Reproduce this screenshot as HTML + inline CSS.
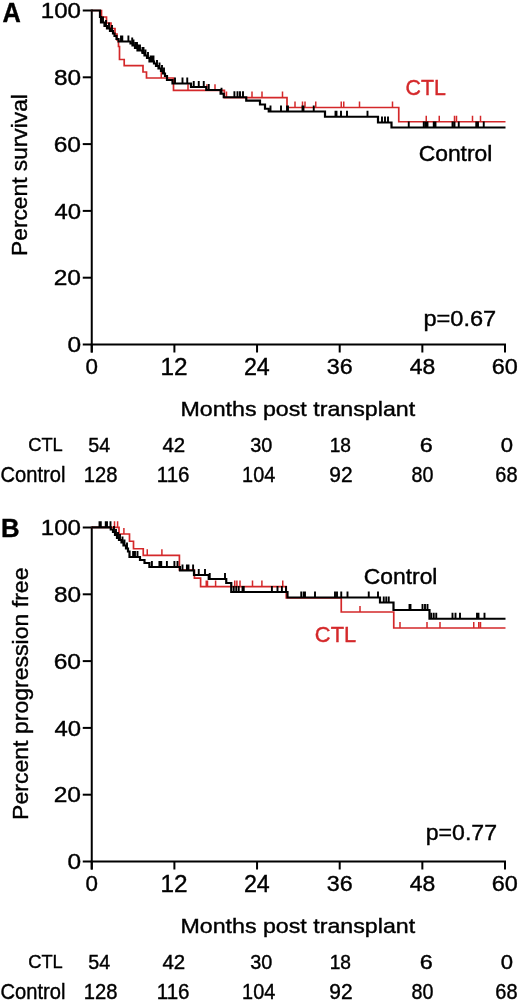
<!DOCTYPE html>
<html><head><meta charset="utf-8"><style>
html,body{margin:0;padding:0;background:#fff;width:520px;height:1002px;overflow:hidden}
svg{display:block;filter:blur(0.4px)}
text{font-family:"Liberation Sans",sans-serif}
</style></head><body>
<svg width="520" height="1002" viewBox="0 0 520 1002">
<rect width="520" height="1002" fill="#fff"/>
<line x1="91.75" y1="9.5" x2="91.75" y2="352.5" stroke="#000" stroke-width="2"/>
<line x1="90.75" y1="344.5" x2="506.0" y2="344.5" stroke="#000" stroke-width="2"/>
<line x1="82.75" y1="344.5" x2="91.75" y2="344.5" stroke="#000" stroke-width="2"/>
<line x1="91.75" y1="344.5" x2="91.75" y2="352.5" stroke="#000" stroke-width="2"/>
<line x1="82.75" y1="277.7" x2="91.75" y2="277.7" stroke="#000" stroke-width="2"/>
<line x1="174.4" y1="344.5" x2="174.4" y2="352.5" stroke="#000" stroke-width="2"/>
<line x1="82.75" y1="210.9" x2="91.75" y2="210.9" stroke="#000" stroke-width="2"/>
<line x1="257.05" y1="344.5" x2="257.05" y2="352.5" stroke="#000" stroke-width="2"/>
<line x1="82.75" y1="144.1" x2="91.75" y2="144.1" stroke="#000" stroke-width="2"/>
<line x1="339.7" y1="344.5" x2="339.7" y2="352.5" stroke="#000" stroke-width="2"/>
<line x1="82.75" y1="77.30000000000001" x2="91.75" y2="77.30000000000001" stroke="#000" stroke-width="2"/>
<line x1="422.35" y1="344.5" x2="422.35" y2="352.5" stroke="#000" stroke-width="2"/>
<line x1="82.75" y1="10.5" x2="91.75" y2="10.5" stroke="#000" stroke-width="2"/>
<line x1="505.0" y1="344.5" x2="505.0" y2="352.5" stroke="#000" stroke-width="2"/>
<text transform="matrix(1.0968,0,0,1,67.39,352.13)" font-size="22.32" font-weight="normal" fill="#000" stroke="#000" stroke-width="0.4">0</text>
<text transform="matrix(1.0995,0,0,1,53.72,285.33)" font-size="22.32" font-weight="normal" fill="#000" stroke="#000" stroke-width="0.4">20</text>
<text transform="matrix(1.0709,0,0,1,54.40,218.53)" font-size="22.32" font-weight="normal" fill="#000" stroke="#000" stroke-width="0.4">40</text>
<text transform="matrix(1.1000,0,0,1,53.70,151.73)" font-size="22.32" font-weight="normal" fill="#000" stroke="#000" stroke-width="0.4">60</text>
<text transform="matrix(1.0922,0,0,1,53.89,84.93)" font-size="22.32" font-weight="normal" fill="#000" stroke="#000" stroke-width="0.4">80</text>
<text transform="matrix(1.0790,0,0,1,40.82,18.13)" font-size="22.32" font-weight="normal" fill="#000" stroke="#000" stroke-width="0.4">100</text>
<text transform="matrix(0.9843,0,0,1,85.43,374.33)" font-size="22.74" font-weight="normal" fill="#000" stroke="#000" stroke-width="0.4">0</text>
<text transform="matrix(1.0558,0,0,1,160.55,374.55)" font-size="23.06" font-weight="normal" fill="#000" stroke="#000" stroke-width="0.4">12</text>
<text transform="matrix(1.0079,0,0,1,243.88,374.55)" font-size="23.06" font-weight="normal" fill="#000" stroke="#000" stroke-width="0.4">24</text>
<text transform="matrix(1.0244,0,0,1,326.81,374.33)" font-size="22.74" font-weight="normal" fill="#000" stroke="#000" stroke-width="0.4">36</text>
<text transform="matrix(1.0091,0,0,1,409.82,374.33)" font-size="22.74" font-weight="normal" fill="#000" stroke="#000" stroke-width="0.4">48</text>
<text transform="matrix(1.0322,0,0,1,491.81,374.33)" font-size="22.74" font-weight="normal" fill="#000" stroke="#000" stroke-width="0.4">60</text>
<line x1="91.75" y1="526.5" x2="91.75" y2="869.5" stroke="#000" stroke-width="2"/>
<line x1="90.75" y1="861.5" x2="506.0" y2="861.5" stroke="#000" stroke-width="2"/>
<line x1="82.75" y1="861.5" x2="91.75" y2="861.5" stroke="#000" stroke-width="2"/>
<line x1="91.75" y1="861.5" x2="91.75" y2="869.5" stroke="#000" stroke-width="2"/>
<line x1="82.75" y1="794.7" x2="91.75" y2="794.7" stroke="#000" stroke-width="2"/>
<line x1="174.4" y1="861.5" x2="174.4" y2="869.5" stroke="#000" stroke-width="2"/>
<line x1="82.75" y1="727.9" x2="91.75" y2="727.9" stroke="#000" stroke-width="2"/>
<line x1="257.05" y1="861.5" x2="257.05" y2="869.5" stroke="#000" stroke-width="2"/>
<line x1="82.75" y1="661.1" x2="91.75" y2="661.1" stroke="#000" stroke-width="2"/>
<line x1="339.7" y1="861.5" x2="339.7" y2="869.5" stroke="#000" stroke-width="2"/>
<line x1="82.75" y1="594.3" x2="91.75" y2="594.3" stroke="#000" stroke-width="2"/>
<line x1="422.35" y1="861.5" x2="422.35" y2="869.5" stroke="#000" stroke-width="2"/>
<line x1="82.75" y1="527.5" x2="91.75" y2="527.5" stroke="#000" stroke-width="2"/>
<line x1="505.0" y1="861.5" x2="505.0" y2="869.5" stroke="#000" stroke-width="2"/>
<text transform="matrix(1.0968,0,0,1,67.39,869.13)" font-size="22.32" font-weight="normal" fill="#000" stroke="#000" stroke-width="0.4">0</text>
<text transform="matrix(1.0995,0,0,1,53.72,802.33)" font-size="22.32" font-weight="normal" fill="#000" stroke="#000" stroke-width="0.4">20</text>
<text transform="matrix(1.0709,0,0,1,54.40,735.53)" font-size="22.32" font-weight="normal" fill="#000" stroke="#000" stroke-width="0.4">40</text>
<text transform="matrix(1.1000,0,0,1,53.70,668.73)" font-size="22.32" font-weight="normal" fill="#000" stroke="#000" stroke-width="0.4">60</text>
<text transform="matrix(1.0922,0,0,1,53.89,601.93)" font-size="22.32" font-weight="normal" fill="#000" stroke="#000" stroke-width="0.4">80</text>
<text transform="matrix(1.0790,0,0,1,40.82,535.13)" font-size="22.32" font-weight="normal" fill="#000" stroke="#000" stroke-width="0.4">100</text>
<text transform="matrix(0.9843,0,0,1,85.43,891.33)" font-size="22.74" font-weight="normal" fill="#000" stroke="#000" stroke-width="0.4">0</text>
<text transform="matrix(1.0558,0,0,1,160.55,891.55)" font-size="23.06" font-weight="normal" fill="#000" stroke="#000" stroke-width="0.4">12</text>
<text transform="matrix(1.0079,0,0,1,243.88,891.55)" font-size="23.06" font-weight="normal" fill="#000" stroke="#000" stroke-width="0.4">24</text>
<text transform="matrix(1.0244,0,0,1,326.81,891.33)" font-size="22.74" font-weight="normal" fill="#000" stroke="#000" stroke-width="0.4">36</text>
<text transform="matrix(1.0091,0,0,1,409.82,891.33)" font-size="22.74" font-weight="normal" fill="#000" stroke="#000" stroke-width="0.4">48</text>
<text transform="matrix(1.0322,0,0,1,491.81,891.33)" font-size="22.74" font-weight="normal" fill="#000" stroke="#000" stroke-width="0.4">60</text>
<text transform="matrix(0.9423,0,0,1,2.42,21.95)" font-size="26.89" font-weight="bold" fill="#000" stroke="#000" stroke-width="0.4">A</text>
<text transform="matrix(0.9785,0,0,1,0.93,537.25)" font-size="26.31" font-weight="bold" fill="#000" stroke="#000" stroke-width="0.4">B</text>
<text transform="matrix(1.0995,0,0,1,180.45,416.15)" font-size="21.11" font-weight="normal" fill="#000" stroke="#000" stroke-width="0.4">Months post transplant</text>
<text transform="matrix(0.9612,0,0,1,28.17,451.15)" font-size="19.05" font-weight="normal" fill="#000" stroke="#000" stroke-width="0.4">CTL</text>
<text transform="matrix(0.9360,0,0,1,0.58,481.94)" font-size="21.51" font-weight="normal" fill="#000" stroke="#000" stroke-width="0.4">Control</text>
<text transform="matrix(0.9820,0,0,1,88.31,451.65)" font-size="20.06" font-weight="normal" fill="#000" stroke="#000" stroke-width="0.4">54</text>
<text transform="matrix(1.0224,0,0,1,162.38,451.85)" font-size="20.05" font-weight="normal" fill="#000" stroke="#000" stroke-width="0.4">42</text>
<text transform="matrix(1.0040,0,0,1,250.34,451.66)" font-size="19.77" font-weight="normal" fill="#000" stroke="#000" stroke-width="0.4">30</text>
<text transform="matrix(0.9705,0,0,1,329.64,451.66)" font-size="19.77" font-weight="normal" fill="#000" stroke="#000" stroke-width="0.4">18</text>
<text transform="matrix(1.1837,0,0,1,419.66,451.66)" font-size="19.77" font-weight="normal" fill="#000" stroke="#000" stroke-width="0.4">6</text>
<text transform="matrix(1.1161,0,0,1,500.74,451.66)" font-size="19.77" font-weight="normal" fill="#000" stroke="#000" stroke-width="0.4">0</text>
<text transform="matrix(0.9352,0,0,1,83.81,481.94)" font-size="21.61" font-weight="normal" fill="#000" stroke="#000" stroke-width="0.4">128</text>
<text transform="matrix(0.9504,0,0,1,156.79,481.94)" font-size="21.61" font-weight="normal" fill="#000" stroke="#000" stroke-width="0.4">116</text>
<text transform="matrix(0.9193,0,0,1,242.09,481.94)" font-size="21.61" font-weight="normal" fill="#000" stroke="#000" stroke-width="0.4">104</text>
<text transform="matrix(0.9710,0,0,1,329.37,481.94)" font-size="21.61" font-weight="normal" fill="#000" stroke="#000" stroke-width="0.4">92</text>
<text transform="matrix(0.9122,0,0,1,411.49,481.94)" font-size="21.61" font-weight="normal" fill="#000" stroke="#000" stroke-width="0.4">80</text>
<text transform="matrix(0.9227,0,0,1,495.34,481.94)" font-size="21.61" font-weight="normal" fill="#000" stroke="#000" stroke-width="0.4">68</text>
<text transform="matrix(1.0995,0,0,1,180.45,933.15)" font-size="21.11" font-weight="normal" fill="#000" stroke="#000" stroke-width="0.4">Months post transplant</text>
<text transform="matrix(0.9612,0,0,1,28.17,968.15)" font-size="19.05" font-weight="normal" fill="#000" stroke="#000" stroke-width="0.4">CTL</text>
<text transform="matrix(0.9360,0,0,1,0.58,998.94)" font-size="21.51" font-weight="normal" fill="#000" stroke="#000" stroke-width="0.4">Control</text>
<text transform="matrix(0.9820,0,0,1,88.31,968.65)" font-size="20.06" font-weight="normal" fill="#000" stroke="#000" stroke-width="0.4">54</text>
<text transform="matrix(1.0224,0,0,1,162.38,968.85)" font-size="20.05" font-weight="normal" fill="#000" stroke="#000" stroke-width="0.4">42</text>
<text transform="matrix(1.0040,0,0,1,250.34,968.66)" font-size="19.77" font-weight="normal" fill="#000" stroke="#000" stroke-width="0.4">30</text>
<text transform="matrix(0.9705,0,0,1,329.64,968.66)" font-size="19.77" font-weight="normal" fill="#000" stroke="#000" stroke-width="0.4">18</text>
<text transform="matrix(1.1837,0,0,1,419.66,968.66)" font-size="19.77" font-weight="normal" fill="#000" stroke="#000" stroke-width="0.4">6</text>
<text transform="matrix(1.1161,0,0,1,500.74,968.66)" font-size="19.77" font-weight="normal" fill="#000" stroke="#000" stroke-width="0.4">0</text>
<text transform="matrix(0.9352,0,0,1,83.81,998.94)" font-size="21.61" font-weight="normal" fill="#000" stroke="#000" stroke-width="0.4">128</text>
<text transform="matrix(0.9504,0,0,1,156.79,998.94)" font-size="21.61" font-weight="normal" fill="#000" stroke="#000" stroke-width="0.4">116</text>
<text transform="matrix(0.9193,0,0,1,242.09,998.94)" font-size="21.61" font-weight="normal" fill="#000" stroke="#000" stroke-width="0.4">104</text>
<text transform="matrix(0.9710,0,0,1,329.37,998.94)" font-size="21.61" font-weight="normal" fill="#000" stroke="#000" stroke-width="0.4">92</text>
<text transform="matrix(0.9122,0,0,1,411.49,998.94)" font-size="21.61" font-weight="normal" fill="#000" stroke="#000" stroke-width="0.4">80</text>
<text transform="matrix(0.9227,0,0,1,495.34,998.94)" font-size="21.61" font-weight="normal" fill="#000" stroke="#000" stroke-width="0.4">68</text>
<text transform="matrix(0,-1.0117,1,0,27.05,255.92)" font-size="22.49" fill="#000" stroke="#000" stroke-width="0.4">Percent survival</text>
<text transform="matrix(0,-1.0256,1,0,27.65,819.94)" font-size="22.49" fill="#000" stroke="#000" stroke-width="0.4">Percent progression free</text>
<text transform="matrix(1.0630,0,0,1,423.43,325.84)" font-size="22.19" font-weight="normal" fill="#000" stroke="#000" stroke-width="0.4">p=0.67</text>
<text transform="matrix(1.0403,0,0,1,425.76,840.04)" font-size="22.19" font-weight="normal" fill="#000" stroke="#000" stroke-width="0.4">p=0.77</text>
<text transform="matrix(0.9746,0,0,1,405.52,95.15)" font-size="21.91" font-weight="normal" fill="#d4282a" stroke="#d4282a" stroke-width="0.4">CTL</text>
<text transform="matrix(1.0632,0,0,1,418.69,160.94)" font-size="21.51" font-weight="normal" fill="#000" stroke="#000" stroke-width="0.4">Control</text>
<text transform="matrix(1.0573,0,0,1,363.69,583.54)" font-size="21.65" font-weight="normal" fill="#000" stroke="#000" stroke-width="0.4">Control</text>
<text transform="matrix(0.9609,0,0,1,314.84,641.85)" font-size="22.77" font-weight="normal" fill="#d4282a" stroke="#d4282a" stroke-width="0.4">CTL</text>
<path d="M91.75,10.5H101.5V17H106.5V23H111V28.5H115V34H117V40H118.5V46.5H119.5V59.5H124.2V65.7H143V72H146.5V78H173.5V90.3H224.4V97.6H287V107.5H398.75V121.75H505.5" fill="none" stroke="#d4282a" stroke-width="1.7" stroke-linejoin="miter" stroke-linecap="butt"/>
<path d="M161.25,78V72.0M188,90.3V84.3M206.9,90.3V84.3M215,90.3V84.3M226.5,97.6V91.6M252,97.6V91.6M262,97.6V91.6M282.5,97.6V91.6M295,107.5V101.5M302.5,107.5V101.5M305,107.5V101.5M315.75,107.5V101.5M341.25,107.5V101.5M343.75,107.5V101.5M359.5,107.5V101.5M392.5,107.5V101.5M426.25,121.75V115.75M439.25,121.75V115.75M454.5,121.75V115.75M456.5,121.75V115.75M472.5,121.75V115.75M480.5,121.75V115.75" fill="none" stroke="#d4282a" stroke-width="1.5"/>
<path d="M91.75,10.5H100V17H101V22.5H104.5V26H107V28.5H110V31H113V33.5H114.5V36H116.5V39H118.5V41.5H130.5V43.5H132.5V45.5H135V48H137.5V50.5H142.5V53H144.5V55.5H147V58H149.5V61.5H154V63.5H156V66H158.5V68.5H161V71H163V73.5H165V76H167V80H172.5V83.5H191V87H206.25V90H220.6V93.75H223.75V97.25H246.25V100.6H260V104.5H265V108.75H268.75V111.5H325V116.75H378V122.5H391.5V127.5H505.5" fill="none" stroke="#000" stroke-width="2.2" stroke-linejoin="miter" stroke-linecap="butt"/>
<path d="M103,22.5V16.5M106,26V20.0M109,28.5V22.5M112,31V25.0M121,41.5V35.5M122.3,41.5V35.5M128.4,41.5V35.5M132.2,43.5V37.5M133.5,45.5V39.5M135.5,48V42.0M137,48V42.0M138.5,50.5V44.5M140,50.5V44.5M142.5,53V47.0M143.5,53V47.0M145.5,55.5V49.5M148,58V52.0M150.6,61.5V55.5M151.5,61.5V55.5M152.5,61.5V55.5M153.5,61.5V55.5M157,66V60.0M159.5,68.5V62.5M162,71V65.0M164,73.5V67.5M175,83.5V77.5M182.5,83.5V77.5M187.25,83.5V77.5M193.75,87V81.0M198.75,87V81.0M203.75,87V81.0M208.75,90V84.0M221.5,93.75V87.75M234.4,97.25V91.25M237.5,97.25V91.25M240,97.25V91.25M243,97.25V91.25M270.5,111.5V105.5M281,111.5V105.5M287,111.5V105.5M288,111.5V105.5M302.5,111.5V105.5M303.5,111.5V105.5M313.75,111.5V105.5M335.5,116.75V110.75M336.5,116.75V110.75M341,116.75V110.75M347,116.75V110.75M367.5,116.75V110.75M382,122.5V116.5M385,122.5V116.5M388,122.5V116.5M408.75,127.5V121.5M423.75,127.5V121.5M425.75,127.5V121.5M427.5,127.5V121.5M433.75,127.5V121.5M435.5,127.5V121.5M452.5,127.5V121.5M454.5,127.5V121.5M458.75,127.5V121.5M476.25,127.5V121.5M478,127.5V121.5M483.75,127.5V121.5" fill="none" stroke="#000" stroke-width="1.9"/>
<path d="M91.75,527.3H119V534H129.5V541.25H133.5V548.75H143.25V555.3H179.4V570H194.4V578.1H200.6V586.6H286.25V597.8H341.25V612H393.75V628H505.5" fill="none" stroke="#d4282a" stroke-width="1.7" stroke-linejoin="miter" stroke-linecap="butt"/>
<path d="M114.5,527.3V521.3M117.6,527.3V521.3M123.9,534V528.0M147.25,555.3V549.3M161.9,555.3V549.3M206.25,586.6V580.6M207.5,586.6V580.6M215.6,586.6V580.6M234.75,586.6V580.6M236.9,586.6V580.6M240,586.6V580.6M252.5,586.6V580.6M261.9,586.6V580.6M282.75,586.6V580.6M360,612V606.0M400,628V622.0M427,628V622.0M440,628V622.0M473.75,628V622.0M478.75,628V622.0M480.5,628V622.0" fill="none" stroke="#d4282a" stroke-width="1.5"/>
<path d="M91.75,527.3H110.75V529.5H113V532H115V535H117V538H119V540H121.5V542.5H123.5V545.5H126V548.5H128V551.5H129.5V557H140V560H144.5V563H149.4V567H180V570.5H194V575H208.75V579H226.25V583H231.25V592H287.5V597.5H380V602.5H393.5V610H429.5V618.75H505.5" fill="none" stroke="#000" stroke-width="2.2" stroke-linejoin="miter" stroke-linecap="butt"/>
<path d="M99.5,527.3V521.3M100.8,527.3V521.3M105.75,527.3V521.3M107,527.3V521.3M110.5,527.3V521.3M114,532V526.0M116,535V529.0M118,538V532.0M120,540V534.0M122.5,542.5V536.5M124.5,545.5V539.5M127,548.5V542.5M133.1,557V551.0M135,557V551.0M137.5,557V551.0M151.9,567V561.0M159.4,567V561.0M161.25,567V561.0M166.9,567V561.0M174.4,567V561.0M177.5,567V561.0M182.5,570.5V564.5M186.9,570.5V564.5M188.5,570.5V564.5M193.1,570.5V564.5M198.75,575V569.0M205,575V569.0M209.75,579V573.0M225,579V573.0M233.75,592V586.0M236.25,592V586.0M238.75,592V586.0M242.5,592V586.0M243.75,592V586.0M271.9,592V586.0M277.5,592V586.0M281.9,592V586.0M286,592V586.0M301.25,597.5V591.5M303.75,597.5V591.5M305,597.5V591.5M315,597.5V591.5M335,597.5V591.5M337,597.5V591.5M341.25,597.5V591.5M347.5,597.5V591.5M368.75,597.5V591.5M378,597.5V591.5M383.75,602.5V596.5M386.25,602.5V596.5M388.75,602.5V596.5M409.5,610V604.0M410.5,610V604.0M422.5,610V604.0M425,610V604.0M427.5,610V604.0M431.25,618.75V612.75M433.75,618.75V612.75M436.25,618.75V612.75M452.5,618.75V612.75M455.5,618.75V612.75M460,618.75V612.75M477,618.75V612.75M478.5,618.75V612.75M484.5,618.75V612.75" fill="none" stroke="#000" stroke-width="1.9"/>
</svg></body></html>
